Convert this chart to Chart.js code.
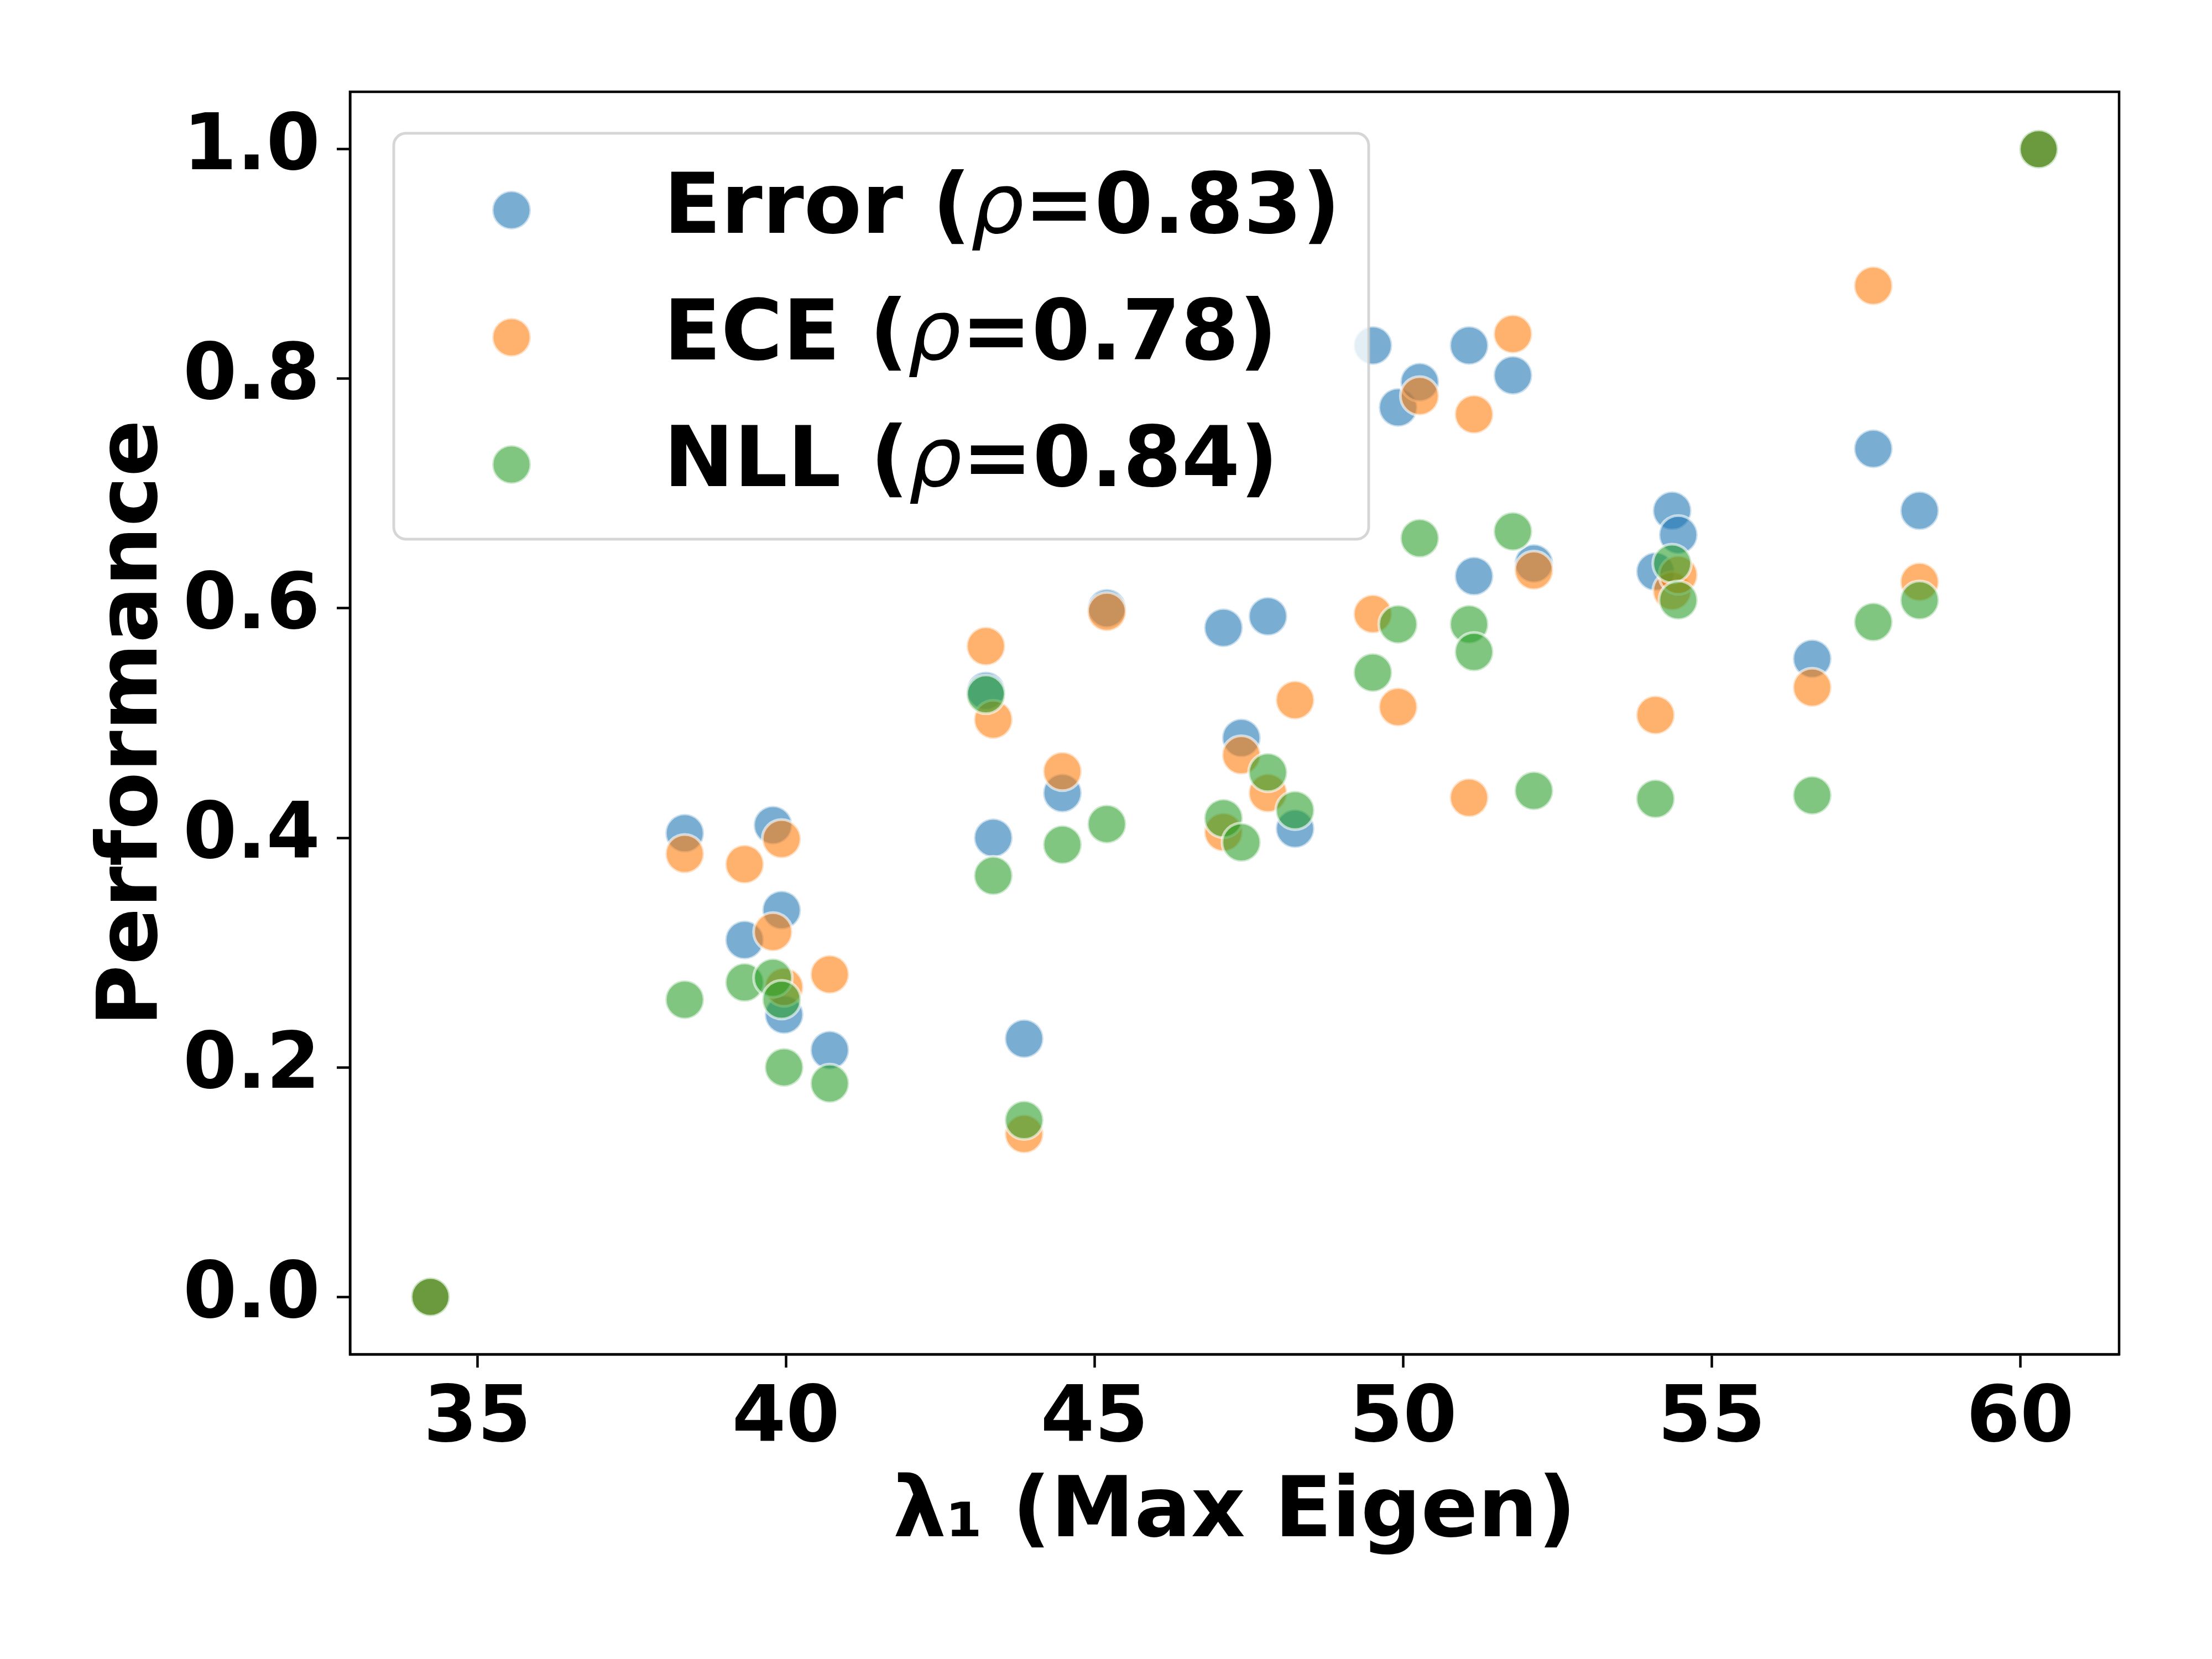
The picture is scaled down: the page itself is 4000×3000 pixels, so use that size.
<!DOCTYPE html>
<html>
<head>
<meta charset="utf-8">
<script src="https://cdn.jsdelivr.net/npm/chart.js@4/dist/chart.umd.min.js"></script>
<style>
    body { margin: 0; background: #fff; }
    canvas { display: block; }
</style>
</head>
<body>
<canvas id="scatter-chartcanvas" width="4000" height="3000"></canvas>
<script>
// max eigenvalue of each model (x) and its normalised scores (y)
var lambdaMax = [34.24, 38.36, 39.33, 39.79, 39.93, 39.97, 40.71, 43.24, 43.36, 43.86, 44.48, 45.20, 47.09, 47.38, 47.81,
    48.25, 49.51, 49.92, 50.27, 51.07, 51.15, 51.78, 52.12, 54.09, 54.36, 54.46, 56.63, 57.62, 58.37, 60.30];
var errorVals = [0.0, 0.404, 0.311, 0.411, 0.337, 0.246, 0.215, 0.528, 0.400, 0.225, 0.439, 0.600, 0.583, 0.487, 0.593,
    0.408, 0.829, 0.775, 0.797, 0.829, 0.628, 0.803, 0.639, 0.632, 0.685, 0.664, 0.556, 0.739, 0.685, 1.0];
var eceVals = [0.0, 0.386, 0.377, 0.318, 0.399, 0.270, 0.281, 0.567, 0.503, 0.142, 0.458, 0.597, 0.405, 0.472, 0.439,
    0.520, 0.595, 0.514, 0.785, 0.435, 0.769, 0.839, 0.633, 0.507, 0.615, 0.629, 0.531, 0.881, 0.623, 1.0];
var nllVals = [0.0, 0.259, 0.274, 0.278, 0.259, 0.200, 0.186, 0.525, 0.367, 0.154, 0.394, 0.412, 0.417, 0.396, 0.457,
    0.424, 0.544, 0.586, 0.661, 0.586, 0.562, 0.667, 0.441, 0.434, 0.639, 0.607, 0.437, 0.588, 0.607, 1.0];

var seriesNames = ["Error (ρ=0.83)", "ECE (ρ=0.78)", "NLL (ρ=0.84)"];
var xTicks = [35, 40, 45, 50, 55, 60];
var yTicks = [0.0, 0.2, 0.4, 0.6, 0.8, 1.0];

var fontFamily = "'DejaVu Sans', sans-serif";

function toPoints(ys) {
    var pts = [];
    for (var i = 0; i < lambdaMax.length; i++) {
        pts.push({ x: lambdaMax[i], y: ys[i] });
    }
    return pts;
}

// axis limits with 5% margins like matplotlib
var allY = errorVals.concat(eceVals, nllVals);
var xLo = Math.min.apply(null, lambdaMax), xHi = Math.max.apply(null, lambdaMax);
var yLo = Math.min.apply(null, allY), yHi = Math.max.apply(null, allY);
var xMargin = (xHi - xLo) * 0.05, yMargin = (yHi - yLo) * 0.05;

function makeSet(label, ys, rgb, order) {
    return {
        label: label,
        data: toPoints(ys),
        backgroundColor: "rgba(" + rgb + ",0.6)",
        borderColor: "rgba(255,255,255,0.6)",
        borderWidth: 5,
        pointRadius: 35,
        pointHoverRadius: 35,
        order: order
    };
}

// frame round the axes + the legend box drawn inside the plot
var frameAndLegend = {
    id: "frameAndLegend",
    afterDatasetsDraw: function (chart) {
        var ctx = chart.ctx;
        var area = chart.chartArea;
        ctx.save();
        ctx.strokeStyle = "#000";
        ctx.lineWidth = 4.5;
        ctx.strokeRect(area.left, area.top, area.right - area.left, area.bottom - area.top);

        var x0 = area.left + 79, y0 = area.top + 75;
        ctx.beginPath();
        ctx.roundRect(x0, y0, 1763, 734, 22);
        ctx.fillStyle = "rgba(255,255,255,0.8)";
        ctx.fill();
        ctx.strokeStyle = "rgba(204,204,204,0.8)";
        ctx.lineWidth = 5;
        ctx.stroke();

        chart.data.datasets.forEach(function (ds, i) {
            var cy = y0 + 139 + i * 230;
            ctx.beginPath();
            ctx.arc(x0 + 213, cy, ds.pointRadius, 0, Math.PI * 2);
            ctx.fillStyle = ds.backgroundColor;
            ctx.fill();
            ctx.lineWidth = ds.borderWidth;
            ctx.strokeStyle = ds.borderColor;
            ctx.stroke();

            var parts = ds.label.split("ρ");
            var tx = x0 + 488, ty = y0 + 180 + i * 229;
            ctx.fillStyle = "#000";
            ctx.textBaseline = "alphabetic";
            ctx.textAlign = "left";
            ctx.font = "bold 152px " + fontFamily;
            ctx.fillText(parts[0], tx, ty);
            tx += ctx.measureText(parts[0]).width;
            ctx.font = "italic 152px " + fontFamily;
            ctx.fillText("ρ", tx, ty);
            tx += ctx.measureText("ρ").width;
            ctx.font = "bold 152px " + fontFamily;
            ctx.fillText(parts[1], tx, ty);
        });
        ctx.restore();
    }
};

//get canvas
var ctx = document.getElementById("scatter-chartcanvas");

var chart = new Chart(ctx, {
    type: "scatter",
    data: {
        datasets: [
            makeSet(seriesNames[0], errorVals, "31,119,180", 3),
            makeSet(seriesNames[1], eceVals, "255,127,14", 2),
            makeSet(seriesNames[2], nllVals, "44,160,44", 1)
        ]
    },
    options: {
        responsive: false,
        animation: false,
        devicePixelRatio: 1,
        layout: { padding: { left: 0, top: 166, right: 168, bottom: 0 } },
        plugins: {
            legend: { display: false },
            tooltip: { enabled: false }
        },
        scales: {
            x: {
                type: "linear",
                min: xLo - xMargin,
                max: xHi + xMargin,
                afterFit: function (scale) { scale.height = 551; },
                afterBuildTicks: function (scale) {
                    scale.ticks = xTicks.map(function (v) { return { value: v }; });
                },
                border: { display: true, color: "#000", width: 4.5 },
                grid: { drawOnChartArea: false, drawTicks: true, tickLength: 24, tickWidth: 4.5, tickColor: "#000" },
                ticks: {
                    color: "#000",
                    padding: 27,
                    maxRotation: 0,
                    font: { family: fontFamily, size: 140, weight: "bold", lineHeight: 1 },
                    callback: function (v) { return v; }
                },
                title: {
                    display: true,
                    text: "λ₁ (Max Eigen)",
                    color: "#000",
                    padding: { top: 0, bottom: 170 },
                    font: { family: fontFamily, size: 152, weight: "bold" }
                }
            },
            y: {
                type: "linear",
                min: yLo - yMargin,
                max: yHi + yMargin,
                afterFit: function (scale) { scale.width = 633; },
                afterBuildTicks: function (scale) {
                    scale.ticks = yTicks.map(function (v) { return { value: v }; });
                },
                border: { display: true, color: "#000", width: 4.5 },
                grid: { drawOnChartArea: false, drawTicks: true, tickLength: 24, tickWidth: 4.5, tickColor: "#000" },
                ticks: {
                    color: "#000",
                    padding: 30,
                    font: { family: fontFamily, size: 140, weight: "bold" },
                    callback: function (v) { return v.toFixed(1); }
                },
                title: {
                    display: true,
                    text: "Performance",
                    color: "#000",
                    padding: { top: 152, bottom: 0 },
                    font: { family: fontFamily, size: 152, weight: "bold" }
                }
            }
        }
    },
    plugins: [frameAndLegend]
});
</script>
</body>
</html>
